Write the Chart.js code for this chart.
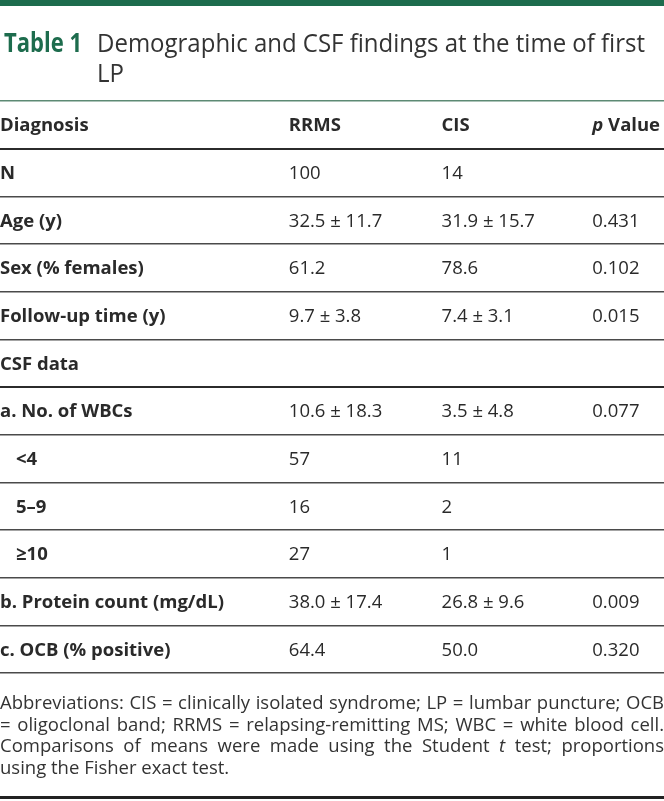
<!DOCTYPE html>
<html>
<head>
<meta charset="utf-8">
<script src="https://cdn.jsdelivr.net/npm/chart.js@4"></script>
<style>
  html, body { margin: 0; padding: 0; background: #fff; }
  #tableChart { display: block; }
</style>
</head>
<body>
<canvas id="tableChart" width="664" height="801"></canvas>
<script>
// Table data (underscores mark italic text)
const tableNumber = 'Table 1';
const titleLines = ['Demographic and CSF findings at the time of first', 'LP'];
const columnHeaders = ['Diagnosis', 'RRMS', 'CIS', '_p_ Value'];
const rowLabels = ['N', 'Age (y)', 'Sex (% females)', 'Follow-up time (y)', 'CSF data',
    'a. No. of WBCs', '<4', '5–9', '≥10', 'b. Protein count (mg/dL)', 'c. OCB (% positive)'];
const rrmsValues = ['100', '32.5 ± 11.7', '61.2', '9.7 ± 3.8', '', '10.6 ± 18.3', '57', '16', '27', '38.0 ± 17.4', '64.4'];
const cisValues = ['14', '31.9 ± 15.7', '78.6', '7.4 ± 3.1', '', '3.5 ± 4.8', '11', '2', '1', '26.8 ± 9.6', '50.0'];
const pValues = ['', '0.431', '0.102', '0.015', '', '0.077', '', '', '', '0.009', '0.320'];
const subRows = ['<4', '5–9', '≥10'];
const footnoteLines = [
    'Abbreviations: CIS = clinically isolated syndrome; LP = lumbar puncture; OCB',
    '= oligoclonal band; RRMS = relapsing-remitting MS; WBC = white blood cell.',
    'Comparisons of means were made using the Student _t_ test; proportions',
    'using the Fisher exact test.'
];

// Layout
const FONT = '"Open Sans", "DejaVu Sans", sans-serif';
const GREEN = '#1d6c4d';
const TEXT = '#2a2a2a';
const BODY_SIZE = 18.5;
const columnLeft = [0, 0.435, 0.665, 0.892]; // fraction of table width
const allRows = [columnHeaders[0], ...rowLabels];
const columnTexts = [allRows, [columnHeaders[1], ...rrmsValues], [columnHeaders[2], ...cisValues], [columnHeaders[3], ...pValues]];

// Draw text that may contain _italic_ parts, returns width
function drawRich(ctx, text, x, y, size, weight, draw) {
    const parts = text.split('_');
    let cx = x;
    parts.forEach((part, i) => {
        if (!part) return;
        ctx.font = (i % 2 ? 'italic ' : '') + weight + ' ' + size + 'px ' + FONT;
        if (draw) ctx.fillText(part, cx, y);
        cx += ctx.measureText(part).width;
    });
    return cx - x;
}

// Title, top bar and footnote
const decorPlugin = {
    id: 'decor',
    beforeDraw(chart) {
        const ctx = chart.ctx;
        ctx.save();
        ctx.fillStyle = '#fff';
        ctx.fillRect(0, 0, chart.width, chart.height);
        ctx.fillStyle = GREEN;
        ctx.fillRect(0, 0, chart.width, 6);

        ctx.textBaseline = 'alphabetic';
        ctx.textAlign = 'left';
        // "Table 1"
        ctx.font = '700 26px ' + FONT;
        let sx = 78 / ctx.measureText(tableNumber).width;
        ctx.save();
        ctx.translate(4, 52);
        ctx.scale(sx, 1);
        ctx.fillStyle = GREEN;
        ctx.fillText(tableNumber, 0, 0);
        ctx.restore();
        // Title text
        ctx.font = '400 26px ' + FONT;
        sx = 548 / ctx.measureText(titleLines[0]).width;
        titleLines.forEach((line, i) => {
            ctx.save();
            ctx.translate(97, 52 + i * 30);
            ctx.scale(sx, 1);
            ctx.fillStyle = '#333';
            ctx.fillText(line, 0, 0);
            ctx.restore();
        });
        ctx.restore();
    },
    afterDraw(chart) {
        const ctx = chart.ctx;
        const W = chart.width;
        ctx.save();
        ctx.fillStyle = '#333';
        ctx.textBaseline = 'alphabetic';
        const size = 18.5;
        ctx.font = '400 ' + size + 'px ' + FONT;
        const spaceW = ctx.measureText(' ').width;
        // condense so the first line fills the width
        const firstWords = footnoteLines[0].split(' ');
        const firstNat = firstWords.reduce((s, w) => s + drawRich(ctx, w, 0, 0, size, 400, false), 0) + spaceW * (firstWords.length - 1);
        const sx = Math.min(1, W / firstNat);
        footnoteLines.forEach((line, li) => {
            const words = line.split(' ');
            const widths = words.map(w => drawRich(ctx, w, 0, 0, size, 400, false) * sx);
            const sum = widths.reduce((a, b) => a + b, 0);
            const last = li === footnoteLines.length - 1;
            const gap = last ? spaceW * sx : (W - sum) / (words.length - 1);
            let x = 0;
            const y = 709 + li * 21.7;
            words.forEach((w, wi) => {
                ctx.save();
                ctx.translate(x, y);
                ctx.scale(sx, 1);
                drawRich(ctx, w, 0, 0, size, 400, true);
                ctx.restore();
                x += widths[wi] + gap;
            });
        });
        ctx.fillStyle = '#222';
        ctx.fillRect(0, 796, W, 3);
        ctx.restore();
    }
};

// Cell text drawn at each data point
const cellPlugin = {
    id: 'tableCells',
    afterDatasetsDraw(chart) {
        const ctx = chart.ctx;
        ctx.save();
        ctx.fillStyle = TEXT;
        ctx.textBaseline = 'alphabetic';
        ctx.textAlign = 'left';
        chart.data.datasets.forEach((ds, c) => {
            const meta = chart.getDatasetMeta(c);
            meta.data.forEach((pt, r) => {
                const text = ds.texts[r];
                if (!text) return;
                const bold = c === 0 || r === 0;
                const indent = c === 0 && subRows.includes(allRows[r]) ? 16 : 0;
                drawRich(ctx, text, pt.x + indent, pt.y + 6.5, BODY_SIZE, bold ? 700 : 400, true);
            });
        });
        ctx.restore();
    }
};

function gridStyle(ctx) {
    const i = ctx.type === 'tick' ? ctx.index : allRows.length;
    if (i === 0) return { color: '#5d8a74', width: 1.5 };
    if (i === 1 || i === 6) return { color: '#2b2b2b', width: 2 };
    return { color: '#4a4a4a', width: 1.5 };
}

new Chart(document.getElementById('tableChart'), {
    type: 'scatter',
    data: {
        datasets: columnTexts.map((texts, c) => ({
            label: columnHeaders[c],
            texts: texts,
            data: allRows.map(r => ({ x: columnLeft[c], y: r })),
            pointRadius: 0,
            pointHoverRadius: 0
        }))
    },
    options: {
        responsive: false,
        animation: false,
        events: [],
        layout: { padding: { top: 101, bottom: 128, left: 0, right: 0 } },
        plugins: { legend: { display: false }, tooltip: { enabled: false }, title: { display: false } },
        scales: {
            x: { type: 'linear', min: 0, max: 1, display: false },
            y: {
                type: 'category',
                labels: allRows,
                offset: true,
                border: { display: false },
                ticks: { display: false },
                grid: {
                    offset: true,
                    drawTicks: false,
                    color: ctx => gridStyle(ctx).color,
                    lineWidth: ctx => gridStyle(ctx).width
                },
                afterFit(scale) { scale.width = 0; }
            }
        }
    },
    plugins: [decorPlugin, cellPlugin]
});
</script>
</body>
</html>
